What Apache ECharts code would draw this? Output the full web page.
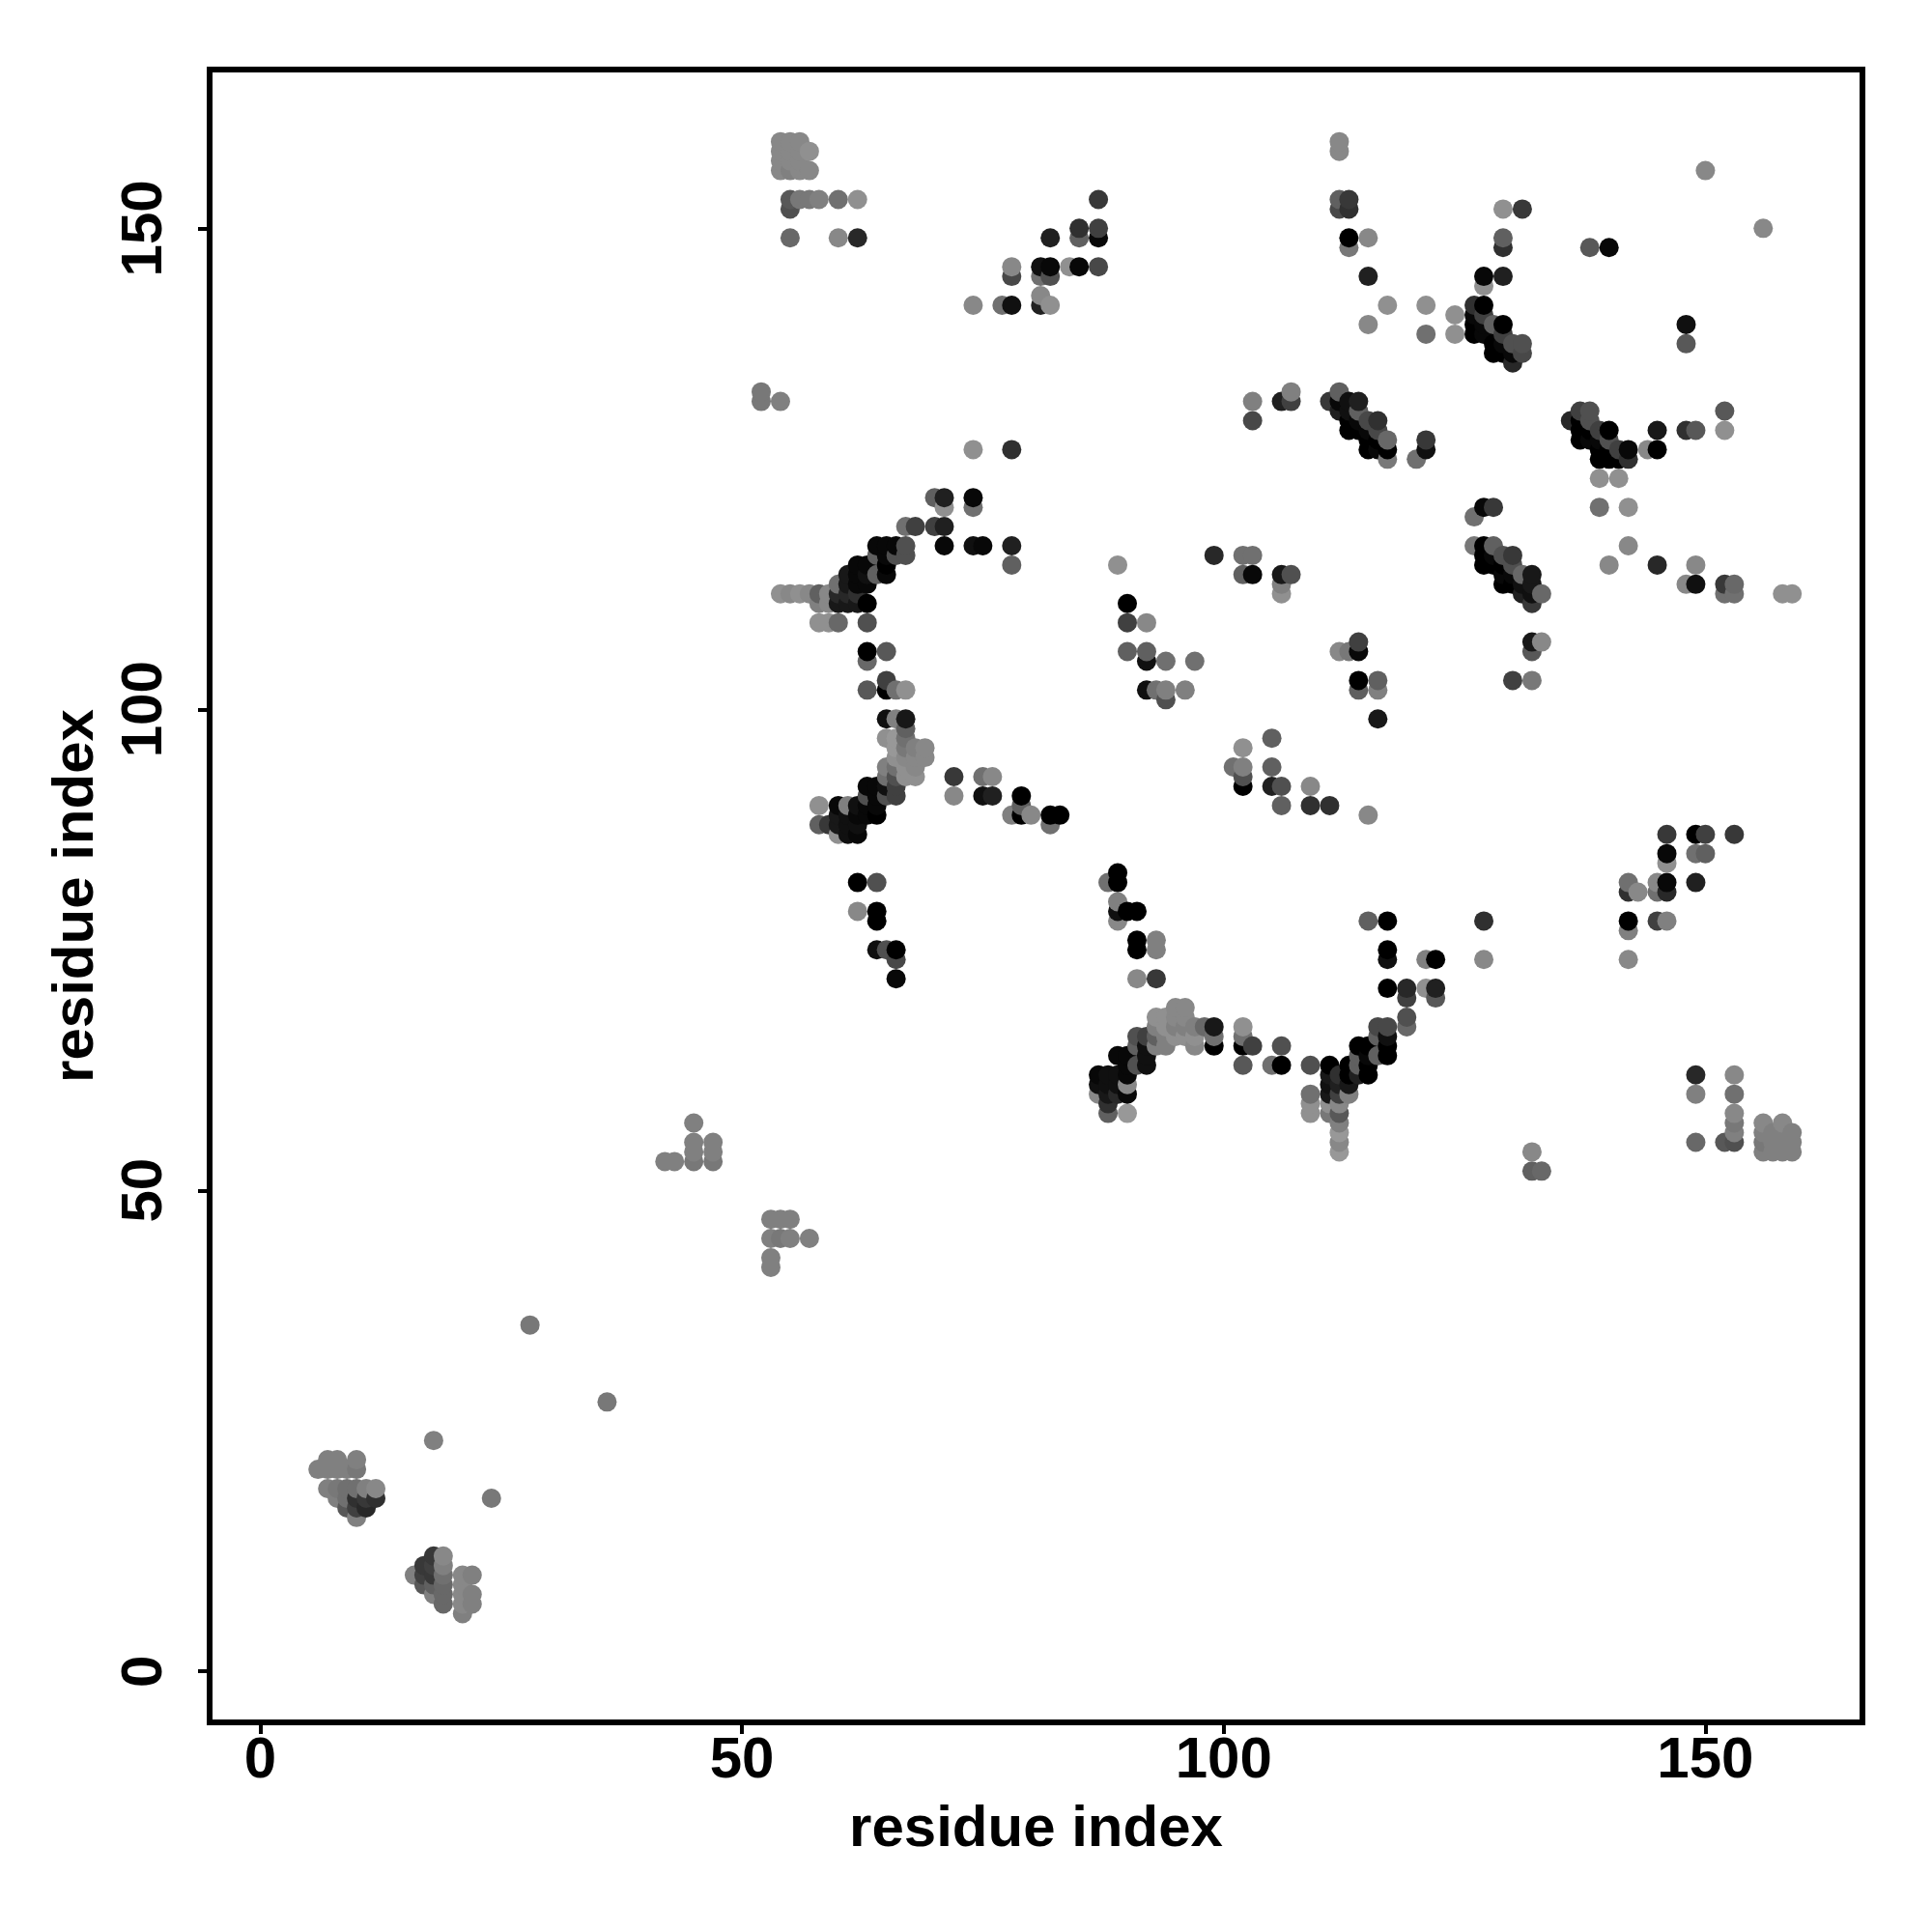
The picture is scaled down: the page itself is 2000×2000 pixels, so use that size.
<!DOCTYPE html>
<html><head><meta charset="utf-8">
<style>html,body{margin:0;padding:0;background:#fff}#c{width:2000px;height:2000px}</style>
<script src="https://cdn.jsdelivr.net/npm/echarts@6/dist/echarts.min.js"></script></head>
<body><div id="c"></div>
<script>
// each contact: [residue x, residue y, shade 0 (black) .. 19 (light grey)]
const tickValues=[0,50,100,150];
const nearDiagonal=[
[18,24,16],[7,22,16],[8,22,16],[10,22,16],[6,21,16],[7,21,16],[8,21,16],[9,21,16],[10,21,15],
[7,19,16],[8,19,15],[9,19,14],[10,19,14],[11,19,16],[12,19,17],[8,18,16],[9,18,14],[10,18,6],[11,18,7],[12,18,6],[24,18,15],
[9,17,11],[10,17,8],[11,17,5],[10,16,16],
[18,12,7],[19,12,17],[17,11,7],[18,11,8],[19,11,16],[16,10,16],[17,10,8],[18,10,7],[19,10,14],[21,10,17],[22,10,16],
[17,9,11],[18,9,12],[19,9,13],[21,9,17],[18,8,16],[19,8,13],[21,8,17],[22,8,16],[19,7,13],[21,7,17],[22,7,16],[21,6,16],
[28,36,15],[36,28,15],
[53,47,16],[54,47,16],[55,47,16],[53,45,16],[54,45,15],[55,45,16],[57,45,16],[53,43,16],[53,42,16],
[45,57,16],[45,55,16],[47,55,16],[45,54,16],[47,54,16],[42,53,16],[43,53,16],[45,53,15],[47,53,15]];
const topLeft=[
[54,159,17],[55,159,17],[56,159,17],[54,158,17],[55,158,17],[56,158,17],[57,158,18],[54,157,17],[55,157,17],[56,157,17],
[54,156,17],[55,156,16],[56,156,17],[57,156,17],[55,153,11],[56,153,15],[57,153,15],[58,153,16],[60,153,14],[62,153,18],[55,152,10],
[55,149,13],[60,149,17],[62,149,5],[52,133,15],[52,132,15],[54,132,16],
[87,153,7],[85,150,6],[87,150,8],[82,149,4],[85,149,12],[87,149,1],[78,146,17],[81,146,2],[82,146,1],[84,146,18],[85,146,1],[87,146,9],
[78,145,9],[81,145,14],[82,145,10],[81,143,17],[74,142,17],[77,142,14],[78,142,2],[81,142,4],[82,142,18]];
const upperHelix=[
[74,127,18],[78,127,6],[70,122,12],[71,122,4],[71,121,18],[74,122,1],[74,121,14],[67,119,14],[68,119,8],[70,119,8],[71,119,4],
[64,117,1],[65,117,1],[66,117,1],[67,117,10],[71,117,1],[74,117,2],[75,117,1],[78,117,4],
[64,116,12],[65,116,1],[66,116,10],[67,116,10],[62,115,1],[63,115,1],[65,115,0],[78,115,12],
[61,114,3],[62,114,1],[63,114,2],[64,114,12],[65,114,1],[60,113,14],[61,113,3],[62,113,1],[63,113,1],
[54,112,18],[55,112,17],[56,112,18],[57,112,17],[58,112,12],[59,112,17],[60,112,5],[61,112,5],[62,112,6],
[58,111,16],[59,111,17],[60,111,3],[61,111,3],[62,111,3],[63,111,0],[58,109,18],[59,109,18],[60,109,13],[63,109,10],
[63,106,0],[65,106,11],[63,105,13],[65,103,8],[63,102,11],[65,102,0],[66,102,14],[67,102,18],
[65,99,2],[66,99,16],[67,99,3],[67,98,12],[65,97,18],[66,97,19],[67,97,14],[66,96,19],[67,96,15],[68,96,16],[69,96,17],
[66,95,18],[67,95,17],[68,95,17],[69,95,17],[65,94,16],[66,94,14],[67,94,18],[68,94,17],[65,93,14],[66,93,10],[67,93,18],[68,93,18]];
const lowerHelix=[
[63,92,1],[64,92,1],[65,92,2],[66,92,8],[72,93,7],[75,93,14],[76,93,17],[63,91,10],[64,91,1],[65,91,10],[66,91,8],[72,91,17],[75,91,2],[76,91,4],[79,91,0],
[79,90,12],[58,90,18],[60,90,1],[61,90,16],[62,90,2],[63,90,1],[64,90,1],[60,89,3],[61,89,2],[62,89,1],[63,89,1],[64,89,0],
[78,89,16],[79,89,0],[80,89,17],[82,89,0],[83,89,0],[58,88,12],[59,88,7],[60,88,3],[61,88,2],[62,88,2],[82,88,14],[60,87,18],[61,87,2],[62,87,1],
[62,82,0],[64,82,10],[62,79,17],[64,79,0],[64,78,0],[64,75,2],[65,75,10],[66,75,0],[66,74,9],[66,72,1],
[88,82,14],[89,83,0],[89,82,0],[89,80,16],[89,79,2],[89,78,17],[90,79,0],[91,79,0],[91,76,0],[91,75,0],[93,76,16],[93,75,16],[91,72,17],[93,72,7]];
const sheetCentre=[
[95,69,17],[96,69,17],[93,68,18],[94,68,18],[95,68,17],[96,68,17],[93,67,16],[94,67,18],[95,67,16],[96,67,16],[97,67,16],[98,67,13],[99,67,3],[102,67,18],
[91,66,10],[92,66,8],[93,66,12],[94,66,16],[95,66,18],[96,66,18],[97,66,18],[99,66,14],[102,66,14],
[91,65,12],[92,65,2],[93,65,16],[94,65,16],[97,65,17],[99,65,0],[102,65,0],[103,65,8],[106,65,10],
[89,64,1],[90,64,1],[92,64,2],[90,63,1],[91,63,10],[92,63,2],[102,63,11],[105,63,14],[106,63,0],[109,63,10],
[87,62,1],[88,62,2],[89,62,2],[90,62,1],[87,61,2],[88,61,2],[89,61,2],[90,61,17],[87,60,17],[88,60,3],[89,60,5],[90,60,1],[88,59,6],[88,58,12],[90,58,19]];
const sheetRight=[
[115,78,12],[117,78,0],[127,78,6],[117,75,0],[117,74,2],[121,74,16],[122,74,0],[127,74,17],[117,71,0],[119,71,5],[121,71,18],[122,71,4],[119,70,8],[122,70,11],[119,68,10],
[116,67,9],[117,67,9],[119,67,13],[116,66,12],[117,66,2],[114,65,0],[115,65,0],[117,65,0],[114,64,12],[115,64,1],[116,64,12],[117,64,0],
[111,63,0],[113,63,0],[114,63,12],[115,63,0],[111,62,3],[112,62,6],[113,62,0],[114,62,4],[115,62,0],[111,61,2],[112,61,4],[113,61,3],
[109,60,14],[111,60,3],[112,60,8],[113,60,16],[109,59,18],[111,59,18],[112,59,17],[109,58,18],[111,58,15],[112,58,11],[112,57,16],[112,56,19],[112,55,17],[112,54,19],
[132,54,17],[132,52,12],[133,52,13]];
const middle=[
[89,115,18],[90,111,0],[90,109,8],[90,106,12],[92,109,17],[92,106,12],[92,105,2],[92,102,2],[93,102,14],[94,105,14],[94,102,16],[94,101,10],[96,102,16],[97,105,14],
[99,116,5],[102,116,14],[103,116,14],[102,114,12],[103,114,1],[106,114,3],[107,114,10],[106,113,16],[106,112,18],
[112,106,17],[113,106,15],[114,107,8],[114,106,1],[114,103,0],[114,102,12],[116,103,12],[116,102,16],[116,99,3],
[101,94,14],[102,96,18],[102,94,16],[102,93,10],[102,92,0],[105,97,12],[105,94,12],[105,92,4],[106,92,10],[106,90,12],[109,92,17],[109,90,6],[111,90,6],[115,89,17],
[103,132,16],[103,130,9],[106,132,4],[107,133,16],[107,132,8]];
const antiDiagonalA=[
[112,133,12],[111,132,7],[112,132,1],[113,132,2],[114,132,4],[112,131,4],[113,131,2],[114,131,12],[113,130,0],[114,130,1],[115,130,9],[116,130,6],
[113,129,0],[114,129,0],[115,129,1],[116,129,9],[115,128,0],[116,128,0],[117,128,13],[121,128,7],[115,127,0],[116,127,1],[117,127,0],[121,127,2],[117,126,15],[120,126,14],
[127,121,1],[128,121,7],[126,120,14],[126,117,15],[127,117,0],[128,117,12],[127,116,0],[128,116,1],[129,116,10],[130,116,7],[127,115,0],[128,115,0],[129,115,0],[130,115,10],
[129,114,1],[130,114,1],[131,114,13],[132,114,3],[129,113,0],[130,113,0],[131,113,2],[132,113,3],[131,112,4],[132,112,2],[133,112,13],[132,111,7],
[132,107,3],[133,107,17],[132,106,11],[130,103,8],[132,103,15]];
const antiDiagonalB=[
[129,149,12],[129,148,6],[138,148,11],[140,148,1],[127,145,1],[129,145,4],[127,144,18],[121,142,18],[124,141,18],[126,142,6],[127,142,0],[126,141,1],[127,141,8],
[126,140,0],[127,140,1],[128,140,12],[129,140,0],[148,140,2],[121,139,14],[124,139,18],[126,139,0],[127,139,1],[129,139,8],[128,138,0],[129,138,1],[130,138,10],[131,138,10],[148,138,11],
[128,137,0],[129,137,0],[130,137,1],[131,137,9],[130,136,5],[112,159,17],[112,158,17],[112,153,12],[113,153,7],[112,152,9],[113,152,6],[113,149,0],[115,149,17],[113,148,15],[115,145,4],[117,142,18],[115,140,17],
[129,152,18],[131,152,7],[150,156,17],[156,150,17],
[137,131,8],[138,131,10],[152,131,11],[136,130,5],[137,130,0],[138,130,10],[137,129,0],[138,129,0],[139,129,8],[140,129,0],[145,129,3],[148,129,6],[149,129,11],[152,129,18],
[137,128,0],[138,128,1],[139,128,1],[140,128,10],[139,127,0],[140,127,0],[141,127,8],[142,127,1],[144,127,17],[145,127,0],[139,126,0],[140,126,0],[141,126,0],[142,126,6],
[139,124,18],[141,124,18],[139,121,14],[142,121,18],[142,117,17],[140,115,17],[145,115,5],[149,115,17],[148,113,17],[149,113,2],[152,113,7],[153,113,13],[152,112,14],[153,112,14],[158,112,18],[159,112,18]];
const lowerRight=[
[146,87,7],[149,87,0],[150,87,8],[153,87,7],[146,85,1],[149,85,14],[150,85,12],[146,84,18],[142,82,14],[145,82,17],[146,82,1],[149,82,4],[142,81,6],[143,81,17],[145,81,14],[146,81,5],
[142,78,0],[145,78,8],[146,78,16],[142,77,16],[142,74,17],
[149,62,5],[153,62,17],[149,60,16],[153,60,14],[153,58,17],[153,57,15],[153,56,16],[149,55,13],[152,55,11],[153,55,10],
[156,57,17],[158,57,17],[156,56,16],[157,56,16],[158,56,16],[159,56,16],[156,55,15],[157,55,16],[158,55,16],[159,55,16],[156,54,16],[157,54,16],[158,54,16],[159,54,16]];

const contacts=[...nearDiagonal,...topLeft,...upperHelix,...lowerHelix,...sheetCentre,...sheetRight,...middle,...antiDiagonalA,...antiDiagonalB,...lowerRight]
  .sort((a,b)=>a[0]-b[0]||a[1]-b[1]);

const font='"Liberation Sans", Arial, sans-serif';
const chart=echarts.init(document.getElementById('c'),null,{renderer:'canvas'});
const axis=(extra,labelExtra)=>Object.assign({
  type:'value',name:'residue index',nameLocation:'middle',nameMoveOverlap:false,
  nameTextStyle:{fontFamily:font,fontWeight:'bold',fontSize:60,color:'#000'},
  splitLine:{show:false},axisLine:{show:false,onZero:false},
  axisTick:{show:true,length:12,inside:false,lineStyle:{color:'#000',width:4},customValues:tickValues},
  axisLabel:Object.assign({show:true,customValues:tickValues,fontFamily:font,fontWeight:'bold',fontSize:60,color:'#000'},labelExtra)
},extra);
chart.setOption({
  animation:false,backgroundColor:'#fff',
  grid:{left:217,top:72,width:1711,height:1711,show:true,borderColor:'#000',borderWidth:6,backgroundColor:'transparent'},
  xAxis:axis({min:-5.25,max:166.3,nameGap:81},{margin:10}),
  yAxis:axis({min:-5.3,max:166.5,nameGap:108},{rotate:90,margin:37}),
  visualMap:{show:false,type:'continuous',dimension:2,min:0,max:19,inRange:{color:['#000000','#989898']}},
  series:[{type:'scatter',data:contacts,symbol:'circle',symbolSize:20,large:false,silent:true,clip:false,itemStyle:{opacity:1}}]
});
</script></body></html>
